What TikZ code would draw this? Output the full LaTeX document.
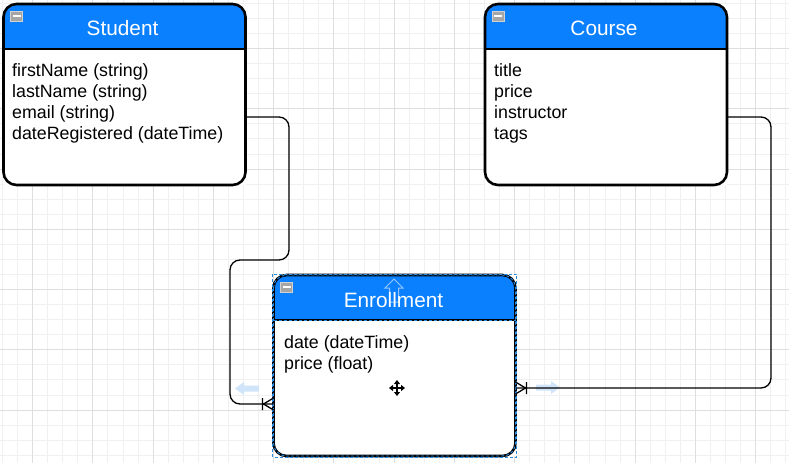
\documentclass[tikz,border=0pt]{standalone}
\usepackage{fontspec}
\setmainfont{Liberation Sans}
\usepackage{tikz}
\usetikzlibrary{arrows.meta}
\usetikzlibrary{positioning, calc}

\definecolor{hdrblue}{RGB}{10,128,255}
\definecolor{gridmajor}{RGB}{222,222,222}
\definecolor{gridminor}{RGB}{240,240,240}
\definecolor{selblue}{RGB}{40,140,225}
\definecolor{ghostblue}{RGB}{208,228,250}

\begin{document}
\begin{tikzpicture}[x=1pt, y=-1pt]
		\newcommand*{\boxw}{242}
		\newcommand*{\boxh}{181}
		\newcommand*{\hdrh}{45}
		\tikzset{
			entity/.style={fill=white, minimum width=\boxw pt, minimum height=\boxh pt, inner sep=0pt, outer sep=0pt},
			title/.style={text=white, font=\fontsize{20.8}{24}\selectfont, inner sep=0pt, anchor=base},
			fields/.style={font=\fontsize{17.8}{21}\selectfont, align=left, anchor=north west, inner sep=0pt},
			conn/.style={line width=1.3pt, rounded corners=10pt},
			cursortip/.tip={Triangle[length=4pt, width=6pt]},
			crowsfoot/.pic={
				\draw[line width=1.3pt] (-10,0) -- (0,-6) (-10,0) -- (0,6) (-11,-6) -- (-11,6);
			},
			ghostarrow/.pic={
				\fill[ghostblue] (-12,0) -- (-3,-6.5) -- (-3,-3) -- (12,-3) -- (12,3) -- (-3,3) -- (-3,6.5) -- cycle;
			},
		}
		\useasboundingbox (0,0) rectangle (789,463);
		\fill[white] (0,0) rectangle (789,463);
		\foreach \k in {0,...,52} \draw[gridminor, line width=0.8pt] (2.4+\k*15.0625,0) -- (2.4+\k*15.0625,463);
		\foreach \k in {0,...,30} \draw[gridminor, line width=0.8pt] (0,3.3+\k*15.0625) -- (789,3.3+\k*15.0625);
		\foreach \k in {0,...,12} \draw[gridmajor, line width=1pt] (32.5+\k*60.25,0) -- (32.5+\k*60.25,463);
		\foreach \k in {0,...,6} \draw[gridmajor, line width=1pt] (0,48.5+\k*60.25) -- (789,48.5+\k*60.25);

		\node[entity] (student) at (124.5,94.5) {};
		\node[entity] (course) at (606,94.5) {};
		\node[entity] (enroll) at (394.5,365.5) {};

		\foreach \b in {student, course, enroll} {
			\begin{scope}
				\clip[rounded corners=13pt] (\b.north west) rectangle (\b.south east);
				\fill[hdrblue] (\b.north west) rectangle ([yshift=-\hdrh pt]\b.north east);
			\end{scope}
			\draw[line width=2pt] ([yshift=-\hdrh pt]\b.north west) -- ([yshift=-\hdrh pt]\b.north east);
			\draw[line width=2.6pt, rounded corners=13pt] (\b.north west) rectangle (\b.south east);
			\fill[gray!70, draw=gray!35, line width=0.6pt] ([xshift=7pt, yshift=-7pt]\b.north west) rectangle ++(12,10);
			\draw[white, line width=1.2pt] ([xshift=9pt, yshift=-12pt]\b.north west) -- ++(8,0);
		}

		\coordinate (hoverup) at (394,290.5);
		\draw[ghostblue, draw opacity=0.7, line width=1pt] ($(hoverup)+(0,-11.5)$) -- ++(9,9) -- ++(-4.5,0) -- ++(0,14) -- ++(-9,0) -- ++(0,-14) -- ++(-4.5,0) -- cycle;

		\node[title] (studenttitle) at ([xshift=-2pt, yshift=-31pt]student.north) {Student};
		\node[title] (coursetitle) at ([xshift=-2pt, yshift=-31pt]course.north) {Course};
		\node[title] (enrolltitle) at ([xshift=-1pt, yshift=-32pt]enroll.north) {Enrollment};

		\node[fields] (studentfields) at ([xshift=8.5pt, yshift=-59pt]student.north west) {firstName (string)\\lastName (string)\\email (string)\\dateRegistered (dateTime)};
		\node[fields] (coursefields) at ([xshift=9pt, yshift=-59pt]course.north west) {title\\price\\instructor\\tags};
		\node[fields] (enrollfields) at ([xshift=10.5pt, yshift=-60pt]enroll.north west) {date (dateTime)\\price (float)};

		% selection handles of the picked entity
		\draw[selblue, line width=0.9pt, dash pattern=on 3pt off 2pt, rounded corners=13pt] (enroll.north west) rectangle (enroll.south east);
		\draw[selblue, line width=0.9pt, dash pattern=on 3pt off 2pt] ([yshift=-\hdrh pt]enroll.north west) -- ([yshift=-\hdrh pt]enroll.north east);
		\draw[selblue, line width=0.8pt, dash pattern=on 3pt off 2pt] ([shift={(-1pt,1pt)}]enroll.north west) rectangle ([shift={(1pt,-1pt)}]enroll.south east);
		\pic at (247,388.5) {ghostarrow};
		\pic[xscale=-1] at (548,387.5) {ghostarrow};

		\coordinate (s1) at (student.east |- 0,117);
		\coordinate (c1) at (course.east |- 0,117);
		\coordinate (e1) at (enroll.west |- 0,404);
		\coordinate (e2) at (enroll.east |- 0,388);
		\draw[conn] (s1) -| (289,260) -| (230,404) -- (e1);
		\draw[conn] (c1) -| (771,388) -- (e2);
		\pic at (e1) {crowsfoot};
		\pic[xscale=-1] at (e2) {crowsfoot};

		\coordinate (cursor) at (397,388);
		\draw[line width=1.6pt, cursortip-cursortip] ([xshift=-8pt]cursor) -- ([xshift=8pt]cursor);
		\draw[line width=1.6pt, cursortip-cursortip] ([yshift=-8pt]cursor) -- ([yshift=8pt]cursor);
	\end{tikzpicture}
\end{document}
